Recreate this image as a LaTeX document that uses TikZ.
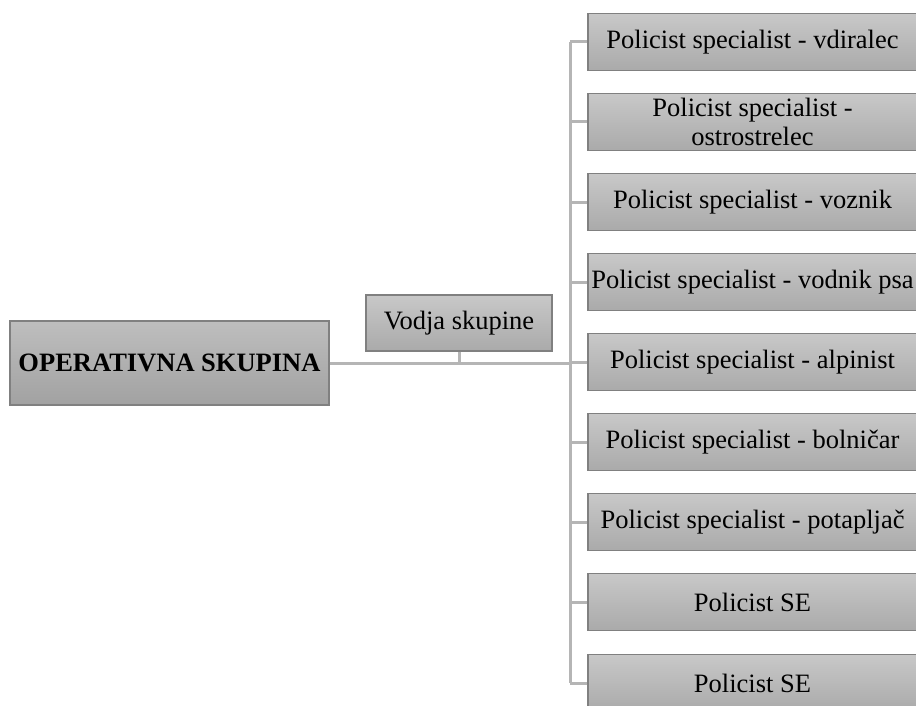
\documentclass[tikz,border=0pt]{standalone}
\usepackage{fontspec}
\setmainfont{Liberation Serif}
\usepackage{tikz}
\usetikzlibrary{positioning,shadings}
\definecolor{osborder}{RGB}{128,128,128}
\definecolor{ostop}{RGB}{200,200,200}
\definecolor{osbottom}{RGB}{170,170,170}
\definecolor{oslink}{RGB}{181,181,181}
\tikzstyle{unit} = [rectangle, draw=osborder, line width=1.2pt, top color=ostop, bottom color=osbottom, align=center, font=\fontsize{26.5}{29}\selectfont, inner sep=1pt]
\tikzstyle{specialist} = [unit, minimum width=329pt, minimum height=57pt]
\tikzstyle{link} = [line width=3pt, color=oslink]

\begin{document}
\begin{tikzpicture}[x=1pt, y=-1pt]
\clip (0,0) rectangle (916,706);
\useasboundingbox (0,0) rectangle (916,706);
% Leader and group
\node (operativna) [unit, minimum width=319pt, minimum height=84pt, top color=ostop!95!black, bottom color=osbottom!95!black] at (169.5,363) {\textbf{OPERATIVNA SKUPINA}};
\node (vodja) [unit, minimum width=186pt, minimum height=56pt] at (459,323) {Vodja skupine};

% Specialists
\node (vdiralec) [specialist] at (752.5,42) {Policist specialist - vdiralec};
\node (ostrostrelec) [specialist] at (752.5,122) {Policist specialist -\\ostrostrelec};
\node (voznik) [specialist] at (752.5,202) {Policist specialist - voznik};
\node (vodnik) [specialist] at (752.5,282) {Policist specialist - vodnik psa};
\node (alpinist) [specialist] at (752.5,362) {Policist specialist - alpinist};
\node (bolnicar) [specialist] at (752.5,442) {Policist specialist - bolničar};
\node (potapljac) [specialist] at (752.5,522) {Policist specialist - potapljač};
\node (seone) [specialist] at (752.5,602) {Policist SE};
\node (setwo) [specialist] at (752.5,683) {Policist SE};

% Connectors
\coordinate (bus) at (570,0);
\draw[link] (operativna.east) -- (operativna.east -| bus);
\draw[link] (vodja.south) -- (vodja.south |- operativna.east);
\draw[link] (vdiralec.west -| bus) -- (setwo.west -| bus);
\draw[link] (vdiralec.west) -- (vdiralec.west -| bus);
\draw[link] (ostrostrelec.west) -- (ostrostrelec.west -| bus);
\draw[link] (voznik.west) -- (voznik.west -| bus);
\draw[link] (vodnik.west) -- (vodnik.west -| bus);
\draw[link] (alpinist.west) -- (alpinist.west -| bus);
\draw[link] (bolnicar.west) -- (bolnicar.west -| bus);
\draw[link] (potapljac.west) -- (potapljac.west -| bus);
\draw[link] (seone.west) -- (seone.west -| bus);
\draw[link] (setwo.west) -- (setwo.west -| bus);
\end{tikzpicture}
\end{document}
